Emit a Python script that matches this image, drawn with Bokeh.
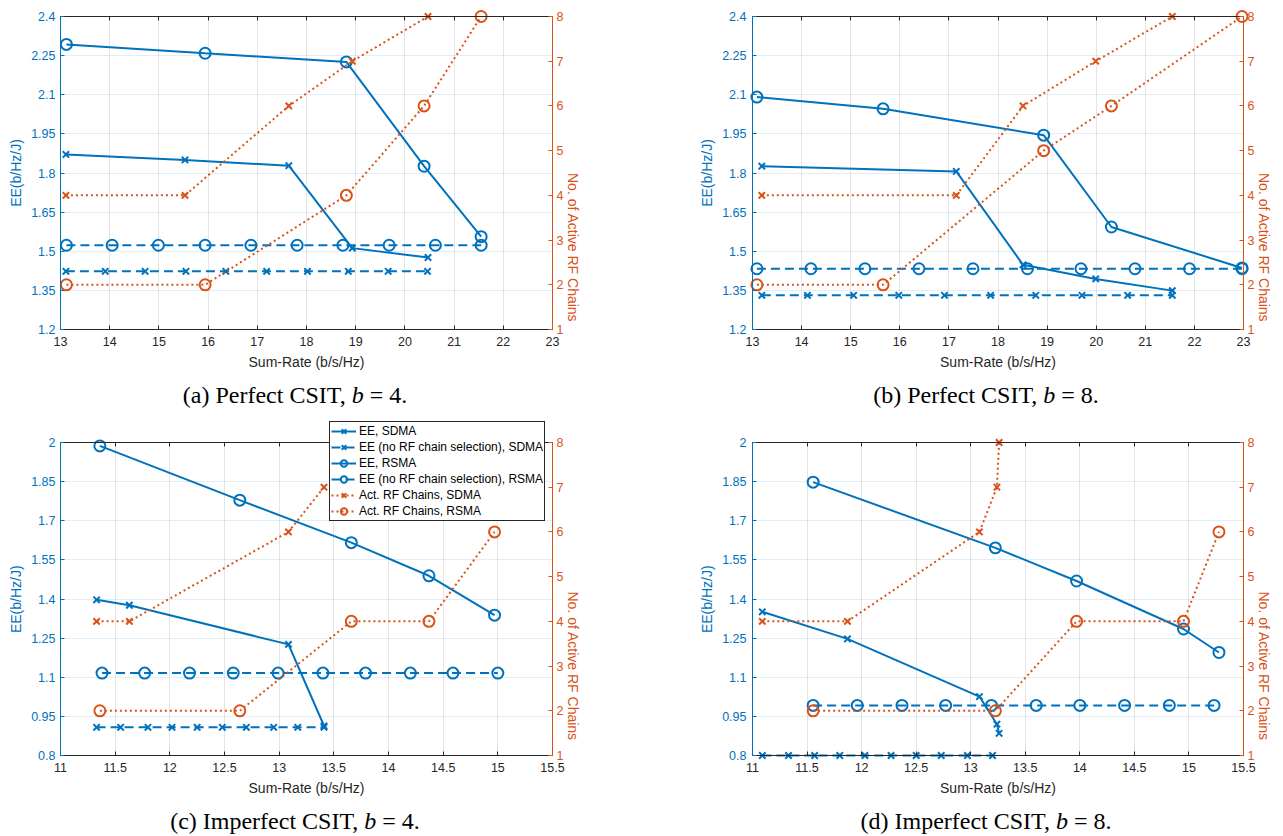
import math
from bokeh.plotting import figure
from bokeh.models import (Range1d, LinearAxis, FixedTicker, CustomJSTickFormatter,
                          Legend, LegendItem, BoxAnnotation, Div)
from bokeh.layouts import row, column
from bokeh.embed import file_html
from bokeh.resources import INLINE

BLUE = "#0072BD"
ORANGE = "#D95319"
DARK = "#262626"
SANS = "Liberation Sans"

# ---------------- tick labels / texts ----------------
x_ticks_perfect = [13, 14, 15, 16, 17, 18, 19, 20, 21, 22, 23]
y_ticks_perfect = [1.2, 1.35, 1.5, 1.65, 1.8, 1.95, 2.1, 2.25, 2.4]
x_ticks_imperfect = [11, 11.5, 12, 12.5, 13, 13.5, 14, 14.5, 15, 15.5]
y_ticks_imperfect = [0.8, 0.95, 1.1, 1.25, 1.4, 1.55, 1.7, 1.85, 2.0]
rf_ticks = [1, 2, 3, 4, 5, 6, 7, 8]

x_label = "Sum-Rate (b/s/Hz)"
y_label = "EE(b/Hz/J)"
y2_label = "No. of Active RF Chains"
legend_labels = ["EE, SDMA", "EE (no RF chain selection), SDMA", "EE, RSMA",
                 "EE (no RF chain selection), RSMA", "Act. RF Chains, SDMA",
                 "Act. RF Chains, RSMA"]

# ---------------- (a) Perfect CSIT, b = 4 ----------------
a_sdma_rate = [13.11, 15.53, 17.64, 18.93, 20.47]
a_sdma_ee = [1.871, 1.850, 1.828, 1.512, 1.476]
a_sdma_rf = [4, 4, 6, 7, 8]
a_rsma_rate = [13.12, 15.94, 18.81, 20.39, 21.55]
a_rsma_ee = [2.293, 2.259, 2.226, 1.826, 1.556]
a_rsma_rf = [2, 2, 4, 6, 8]
a_sdma_nosel_rate = [13.11, 13.91, 14.72, 15.55, 16.36, 17.19, 18.02, 18.85, 19.66, 20.46]
a_sdma_nosel_ee = [1.423, 1.423, 1.423, 1.423, 1.423, 1.423, 1.423, 1.423, 1.423, 1.423]
a_rsma_nosel_rate = [13.12, 14.05, 14.99, 15.94, 16.87, 17.81, 18.74, 19.68, 20.62, 21.55]
a_rsma_nosel_ee = [1.523, 1.523, 1.523, 1.523, 1.523, 1.523, 1.523, 1.523, 1.523, 1.523]

# ---------------- (b) Perfect CSIT, b = 8 ----------------
b_sdma_rate = [13.19, 17.15, 18.51, 19.99, 21.55]
b_sdma_ee = [1.826, 1.806, 1.448, 1.394, 1.349]
b_sdma_rf = [4, 4, 6, 7, 8]
b_rsma_rate = [13.09, 15.66, 18.93, 20.31, 22.97]
b_rsma_ee = [2.091, 2.046, 1.945, 1.593, 1.436]
b_rsma_rf = [2, 2, 5, 6, 8]
b_sdma_nosel_rate = [13.19, 14.12, 15.06, 15.98, 16.91, 17.85, 18.77, 19.71, 20.64, 21.55]
b_sdma_nosel_ee = [1.331, 1.331, 1.331, 1.331, 1.331, 1.331, 1.331, 1.331, 1.331, 1.331]
b_rsma_nosel_rate = [13.09, 14.19, 15.29, 16.39, 17.49, 18.60, 19.69, 20.79, 21.90, 22.97]
b_rsma_nosel_ee = [1.433, 1.433, 1.433, 1.433, 1.433, 1.433, 1.433, 1.433, 1.433, 1.433]

# ---------------- (c) Imperfect CSIT, b = 4 ----------------
c_sdma_rate = [11.33, 11.63, 13.085, 13.41]
c_sdma_ee = [1.397, 1.376, 1.226, 0.914]
c_sdma_rf = [4, 4, 6, 7]
c_rsma_rate = [11.36, 12.64, 13.66, 14.37, 14.97]
c_rsma_ee = [1.987, 1.779, 1.616, 1.489, 1.338]
c_rsma_rf = [2, 2, 4, 4, 6]
c_sdma_nosel_rate = [11.33, 11.55, 11.80, 12.02, 12.25, 12.48, 12.70, 12.95, 13.17, 13.41]
c_sdma_nosel_ee = [0.908, 0.908, 0.908, 0.908, 0.908, 0.908, 0.908, 0.908, 0.908, 0.908]
c_rsma_nosel_rate = [11.38, 11.77, 12.18, 12.58, 12.99, 13.40, 13.79, 14.20, 14.59, 15.00]
c_rsma_nosel_ee = [1.116, 1.116, 1.116, 1.116, 1.116, 1.116, 1.116, 1.116, 1.116, 1.116]

# ---------------- (d) Imperfect CSIT, b = 8 ----------------
d_sdma_rate = [11.09, 11.87, 13.08, 13.24, 13.26]
d_sdma_ee = [1.351, 1.247, 1.026, 0.920, 0.885]
d_sdma_rf = [4, 4, 6, 7, 8]
d_rsma_rate = [11.556, 13.226, 13.97, 14.95, 15.275]
d_rsma_ee = [1.848, 1.596, 1.469, 1.285, 1.195]
d_rsma_rf = [2, 2, 4, 4, 6]
d_sdma_nosel_rate = [11.09, 11.33, 11.57, 11.80, 12.03, 12.27, 12.50, 12.73, 12.97, 13.20]
d_sdma_nosel_ee = [0.8, 0.8, 0.8, 0.8, 0.8, 0.8, 0.8, 0.8, 0.8, 0.8]
d_rsma_nosel_rate = [11.556, 11.96, 12.37, 12.77, 13.19, 13.60, 14.00, 14.41, 14.82, 15.23]
d_rsma_nosel_ee = [0.992, 0.992, 0.992, 0.992, 0.992, 0.992, 0.992, 0.992, 0.992, 0.992]

captions = {
    "a": ("(a) Perfect CSIT, ", "b", " = 4."),
    "b": ("(b) Perfect CSIT, ", "b", " = 8."),
    "c": ("(c) Imperfect CSIT, ", "b", " = 4."),
    "d": ("(d) Imperfect CSIT, ", "b", " = 8."),
}

panels = {
    "a": dict(sdma=(a_sdma_rate, a_sdma_ee, a_sdma_rf), rsma=(a_rsma_rate, a_rsma_ee, a_rsma_rf),
              sdma_nosel=(a_sdma_nosel_rate, a_sdma_nosel_ee), rsma_nosel=(a_rsma_nosel_rate, a_rsma_nosel_ee)),
    "b": dict(sdma=(b_sdma_rate, b_sdma_ee, b_sdma_rf), rsma=(b_rsma_rate, b_rsma_ee, b_rsma_rf),
              sdma_nosel=(b_sdma_nosel_rate, b_sdma_nosel_ee), rsma_nosel=(b_rsma_nosel_rate, b_rsma_nosel_ee)),
    "c": dict(sdma=(c_sdma_rate, c_sdma_ee, c_sdma_rf), rsma=(c_rsma_rate, c_rsma_ee, c_rsma_rf),
              sdma_nosel=(c_sdma_nosel_rate, c_sdma_nosel_ee), rsma_nosel=(c_rsma_nosel_rate, c_rsma_nosel_ee)),
    "d": dict(sdma=(d_sdma_rate, d_sdma_ee, d_sdma_rf), rsma=(d_rsma_rate, d_rsma_ee, d_rsma_rf),
              sdma_nosel=(d_sdma_nosel_rate, d_sdma_nosel_ee), rsma_nosel=(d_rsma_nosel_rate, d_rsma_nosel_ee)),
}

FMT_CODE = "return String(parseFloat(tick.toFixed(2)));"
NBSP = "\u00a0"


def style_axis(ax, color, ticks, standoff, label_standoff, show_line):
    ax.ticker = FixedTicker(ticks=ticks)
    ax.formatter = CustomJSTickFormatter(code=FMT_CODE)
    ax.axis_line_color = color if show_line else None
    ax.axis_line_width = 1
    ax.major_tick_line_color = color if show_line else None
    ax.major_tick_line_width = 1
    ax.major_tick_in = 4
    ax.major_tick_out = 0
    ax.minor_tick_line_color = None
    ax.major_label_text_color = color
    ax.major_label_text_font = SANS
    ax.major_label_text_font_size = "12.5px"
    ax.major_label_standoff = standoff
    ax.axis_label_text_font = SANS
    ax.axis_label_text_font_size = "14px"
    ax.axis_label_text_font_style = "normal"
    ax.axis_label_text_color = color
    ax.axis_label_standoff = label_standoff


def box_axis(p, side, color, ticks, loc, bounds, range_name=None):
    """Unlabelled axis drawn on the visible edge of the axes box (MATLAB-like box with inward ticks)."""
    kw = dict(y_range_name=range_name) if range_name else {}
    ax = LinearAxis(**kw)
    style_axis(ax, color, ticks, 0, 0, True)
    ax.major_label_text_font_size = "0px"
    ax.major_label_text_alpha = 0
    ax.fixed_location = loc
    ax.bounds = bounds
    p.add_layout(ax, side)


def make_panel(key, xr, yr, xt, yt, width, height, vis_l, vis_r, vis_t, vis_b,
               left_standoff, pads, legend_pos=None):
    d = panels[key]
    pl, pr, pt, pb = pads
    fw = width - vis_l - vis_r
    fh = height - vis_t - vis_b
    ux = (xr[1] - xr[0]) / fw
    uy = (yr[1] - yr[0]) / fh
    rfr = (rf_ticks[0], rf_ticks[-1])
    uf = (rfr[1] - rfr[0]) / fh

    p = figure(width=width, height=height,
               x_range=Range1d(xr[0] - pl * ux, xr[1] + pr * ux),
               y_range=Range1d(yr[0] - pb * uy, yr[1] + pt * uy),
               output_backend="svg", toolbar_location=None,
               min_border_left=vis_l - pl, min_border_right=vis_r - pr,
               min_border_top=vis_t - pt, min_border_bottom=vis_b - pb)
    p.outline_line_color = None
    p.background_fill_color = "white"
    p.border_fill_color = "white"
    p.extra_y_ranges = {"rf": Range1d(rfr[0] - pb * uf, rfr[1] + pt * uf)}

    # keep the vertical axis titles centred on the visible box
    fill = NBSP * int(round((pt - pb) / 3.9))

    bottom = p.xaxis[0]
    left = p.yaxis[0]
    style_axis(bottom, DARK, xt, 7 - pb, 5, False)
    bottom.axis_label = x_label
    bottom.bounds = xr
    style_axis(left, BLUE, yt, left_standoff - pl, 4, False)
    left.axis_label = y_label + fill
    left.bounds = yr

    right = LinearAxis(y_range_name="rf")
    style_axis(right, ORANGE, rf_ticks, 4 - pr, 7, False)
    right.axis_label = y2_label + fill
    right.bounds = rfr
    if "axis_label_orientation" in right.properties():
        right.axis_label_orientation = -math.pi / 2
    p.add_layout(right, "right")

    # visible box edges with inward ticks
    box_axis(p, "above", DARK, xt, yr[1], xr)
    box_axis(p, "below", DARK, xt, yr[0], xr)
    box_axis(p, "left", BLUE, yt, xr[0], yr)
    box_axis(p, "right", ORANGE, rf_ticks, xr[1], rfr, "rf")

    p.xgrid.ticker = FixedTicker(ticks=xt)
    p.ygrid.ticker = FixedTicker(ticks=yt)
    p.xgrid.grid_line_color = DARK
    p.xgrid.grid_line_alpha = 0.12
    p.ygrid.grid_line_color = BLUE
    p.ygrid.grid_line_alpha = 0.12

    # white masks so that grid lines stop at the visible axes box
    for kw in (dict(bottom=yr[1]), dict(top=yr[0]), dict(right=xr[0]), dict(left=xr[1])):
        p.add_layout(BoxAnnotation(level="underlay", fill_color="white", fill_alpha=1,
                                   line_color=None, **kw))

    sr, se, sf = d["sdma"]
    rr, re_, rf = d["rsma"]
    snr, sne = d["sdma_nosel"]
    rnr, rne = d["rsma_nosel"]

    lw = 2
    dash = "9 5"
    dot = "2 3"
    xs, cs = 9, 11
    r1 = [p.line(sr, se, line_color=BLUE, line_width=lw),
          p.scatter(sr, se, marker="x", size=xs, line_color=BLUE, line_width=2)]
    r2 = [p.line(snr, sne, line_color=BLUE, line_width=lw, line_dash=dash),
          p.scatter(snr, sne, marker="x", size=xs, line_color=BLUE, line_width=2)]
    r3 = [p.line(rr, re_, line_color=BLUE, line_width=lw),
          p.scatter(rr, re_, marker="circle", size=cs, line_color=BLUE, fill_color=None, line_width=2)]
    r4 = [p.line(rnr, rne, line_color=BLUE, line_width=lw, line_dash=dash),
          p.scatter(rnr, rne, marker="circle", size=cs, line_color=BLUE, fill_color=None, line_width=2)]
    r5 = [p.line(sr[:len(sf)], sf, line_color=ORANGE, line_width=lw, line_dash=dot, y_range_name="rf"),
          p.scatter(sr[:len(sf)], sf, marker="x", size=xs, line_color=ORANGE, line_width=2, y_range_name="rf")]
    r6 = [p.line(rr, rf, line_color=ORANGE, line_width=lw, line_dash=dot, y_range_name="rf"),
          p.scatter(rr, rf, marker="circle", size=cs, line_color=ORANGE, fill_color=None, line_width=2,
                    y_range_name="rf")]

    if legend_pos is not None:
        items = [LegendItem(label=lab, renderers=rs) for lab, rs in zip(legend_labels, [r1, r2, r3, r4, r5, r6])]
        leg = Legend(items=items, location=legend_pos)
        leg.margin = 0
        leg.padding = 1
        leg.glyph_width = 25
        leg.glyph_height = 16
        leg.label_height = 16
        leg.label_standoff = 3
        leg.spacing = 0
        leg.label_text_font = SANS
        leg.label_text_font_size = "12px"
        leg.label_text_color = "black"
        leg.border_line_color = DARK
        leg.border_line_width = 1
        leg.border_line_alpha = 1
        leg.background_fill_color = "white"
        leg.background_fill_alpha = 1
        p.add_layout(leg, "center")
    return p


def caption_div(key, width, margin_left):
    pre, it, post = captions[key]
    html = ('<div style="margin-left:%dpx;width:400px;text-align:center;'
            'font-family:\'Liberation Serif\',serif;font-size:24px;line-height:30px;'
            'color:black;white-space:nowrap">%s<i>%s</i>%s</div>' % (margin_left, pre, it, post))
    return Div(text=html, width=width, height=30, margin=0)


TOP_PADS = (7, 7, 7, 7)
BOTTOM_PADS = (7, 7, 22, 7)
pa = make_panel("a", (13, 23), (1.2, 2.4), x_ticks_perfect, y_ticks_perfect,
                640, 380, 60, 88, 16, 51, 5, TOP_PADS)
pb = make_panel("b", (13, 23), (1.2, 2.4), x_ticks_perfect, y_ticks_perfect,
                643, 380, 112, 39, 16, 51, 6, TOP_PADS)
pc = make_panel("c", (11, 15.5), (0.8, 2.0), x_ticks_imperfect, y_ticks_imperfect,
                640, 396, 60, 88, 32, 51, 5, BOTTOM_PADS, legend_pos=(276, 241))
pd = make_panel("d", (11, 15.5), (0.8, 2.0), x_ticks_imperfect, y_ticks_imperfect,
                643, 396, 112, 39, 32, 51, 6, BOTTOM_PADS)

layout = column(row(pa, pb),
                row(caption_div("a", 640, 95), caption_div("b", 643, 146)),
                row(pc, pd),
                row(caption_div("c", 640, 95), caption_div("d", 643, 146)))
open("out.html", "w").write(file_html(layout, INLINE))
